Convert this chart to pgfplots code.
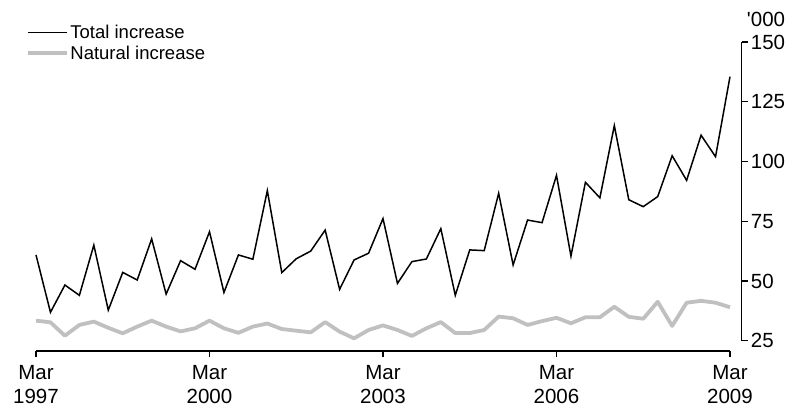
\documentclass[border=0pt]{standalone}
\usepackage{fontspec}
\setmainfont{Liberation Sans}
\newfontfamily\plainsans[Ligatures=TeXOff]{Liberation Sans}
\usepackage{pgfplots}
\pgfplotsset{compat=1.18}
\definecolor{natgray}{RGB}{192,192,192}
\begin{document}
\begin{tikzpicture}[x=1pt,y=1pt]
\path[use as bounding box] (0,0) rectangle (796,410);
\begin{axis}[
  at={(36pt,59pt)}, anchor=south west,
  scale only axis, width=705.7pt, height=309pt,
  xmin=0, xmax=48.81, ymin=20.7, ymax=150,
  axis x line=bottom, axis y line=right,
  axis line style={draw=none},
  tick align=outside,
  major tick length=6pt,
  tick style={black, line width=1.3pt},
  xtick={0,12,24,36,48},
  xticklabels={{Mar\\1997},{Mar\\2000},{Mar\\2003},{Mar\\2006},{Mar\\2009}},
  xticklabel style={align=center, font=\fontsize{20.5}{24}\selectfont, inner sep=2pt, yshift=-6pt},
  ytick={25,50,75,100,125,150},
  yticklabel style={font=\fontsize{20.5}{24}\selectfont, inner sep=3pt},
  /pgf/number format/assume math mode=true,
  legend style={at={(-0.0150,1.062)}, anchor=north west, draw=none, fill=none,
    inner sep=0pt, font=\fontsize{18.5}{22}\selectfont, row sep=2pt,
    nodes={inner sep=2pt}},
  legend cell align=left,
  legend image code/.code={\draw[#1] (0pt,0pt) -- (39pt,0pt);},
  clip=false,
]
\addplot[black, line width=1.5pt, line join=miter] coordinates {
(0,60.9)(1,36.9)(2,48.3)(3,44.0)(4,65.0)(5,37.8)(6,53.6)(7,50.4)(8,67.6)(9,44.5)
(10,58.5)(11,54.9)(12,70.6)(13,45.2)(14,60.9)(15,59.1)(16,87.8)(17,53.5)(18,59.3)(19,62.5)
(20,71.3)(21,46.5)(22,58.8)(23,61.6)(24,76.1)(25,49.0)(26,58.1)(27,59.2)(28,71.9)(29,44.0)
(30,63.0)(31,62.7)(32,86.7)(33,56.7)(34,75.5)(35,74.4)(36,94.2)(37,60.4)(38,91.3)(39,84.8)
(40,115.0)(41,84.0)(42,81.1)(43,85.3)(44,102.4)(45,92.1)(46,111.0)(47,102.0)(48,135.5)};
\addlegendentry{Total increase}
\addplot[natgray, line width=3.8pt, line join=round] coordinates {
(0,33.4)(1,32.7)(2,27.1)(3,31.6)(4,33.0)(5,30.4)(6,28.1)(7,30.9)(8,33.4)(9,30.9)
(10,28.9)(11,30.2)(12,33.4)(13,30.2)(14,28.3)(15,30.9)(16,32.2)(17,29.9)(18,29.2)(19,28.5)
(20,32.8)(21,28.8)(22,26.0)(23,29.5)(24,31.4)(25,29.5)(26,27.0)(27,30.2)(28,32.8)(29,28.2)
(30,28.2)(31,29.5)(32,35.1)(33,34.4)(34,31.6)(35,33.2)(36,34.6)(37,32.3)(38,34.8)(39,34.8)
(40,39.2)(41,35.0)(42,34.2)(43,41.3)(44,31.2)(45,40.9)(46,41.7)(47,40.9)(48,39.0)};
\addlegendentry{Natural increase}
\draw[black, line width=1.3pt] (axis cs:0,20.7) -- (axis cs:48,20.7);
\draw[black, line width=1.3pt] (axis cs:48.81,25) -- (axis cs:48.81,150);
\node[font=\fontsize{20.5}{24}\plainsans, inner sep=0pt] at ([xshift=24.3pt,yshift=22.5pt]rel axis cs:1,1) {'000};
\end{axis}
\end{tikzpicture}
\end{document}
